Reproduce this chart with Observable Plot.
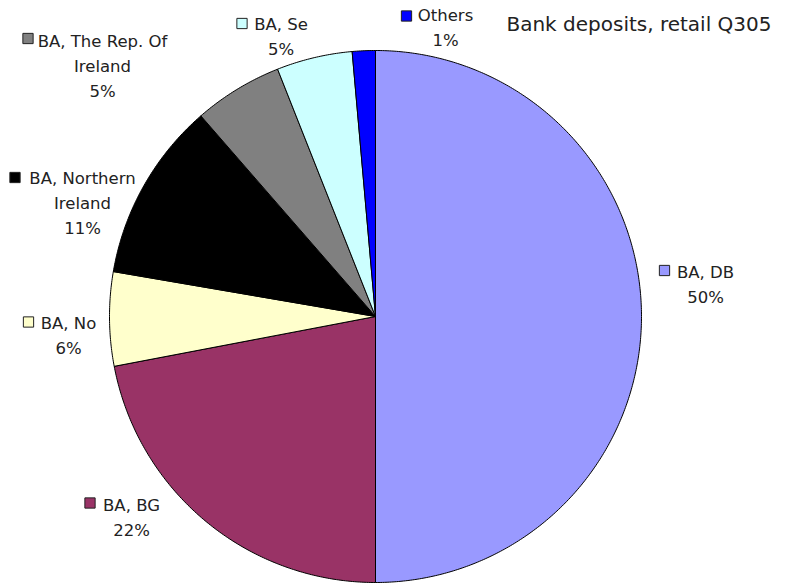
<!DOCTYPE html>
<html>
<head>
<meta charset="utf-8">
<script src="https://cdn.jsdelivr.net/npm/d3@7"></script>
<script src="https://cdn.jsdelivr.net/npm/@observablehq/plot@0.6"></script>
<style>
  html, body { margin: 0; padding: 0; background: #fff; }
  #chart { width: 785px; height: 583px; }
</style>
</head>
<body>
<div id="chart"></div>
<script>
// ---- data ----
const title = "Bank deposits, retail Q305";
const categories = ["BA, DB", "BA, BG", "BA, No", "BA, Northern Ireland", "BA, The Rep. Of Ireland", "BA, Se", "Others"];
const labelNames = ["BA, DB", "BA, BG", "BA, No", "BA, Northern\nIreland", "BA, The Rep. Of\nIreland", "BA, Se", "Others"];
const shares = [50, 22, 5.7, 10.9, 5.4, 4.6, 1.4];
const colors = ["#9999FF", "#993366", "#FFFFCC", "#000000", "#808080", "#CCFFFF", "#0000FF"];

// ---- layout (pixels) ----
const W = 785, H = 583;
const CX = 375, CY = 316, R = 266;
// label: text centre x, baseline of last line, legend-key centre
const labelLayout = [
  {cx: 705, base: 302, mx: 664, my: 270},
  {cx: 131, base: 535, mx: 89.5, my: 502.5},
  {cx: 68, base: 353, mx: 28, my: 321.5},
  {cx: 82, base: 233, mx: 14.5, my: 177},
  {cx: 102, base: 96, mx: 27.5, my: 38},
  {cx: 280.5, base: 54.5, mx: 241.5, my: 23},
  {cx: 445, base: 45, mx: 406, my: 15.5}
];
const titlePos = {x: 771, y: 30};

const ux = px => (px - CX) / R;
const uy = py => (CY - py) / R;

// ---- build slice outlines in unit-circle coordinates ----
const total = d3.sum(shares);
const slicePts = [];
let acc = 0;
categories.forEach((c, i) => {
  const a0 = acc / total * 2 * Math.PI;
  acc += shares[i];
  const a1 = acc / total * 2 * Math.PI;
  const n = Math.max(2, Math.ceil((a1 - a0) / (Math.PI / 360)));
  slicePts.push({cat: c, x: 0, y: 0});
  for (let k = 0; k <= n; k++) {
    const a = a0 + (a1 - a0) * k / n;
    slicePts.push({cat: c, x: Math.sin(a), y: Math.cos(a)});
  }
  slicePts.push({cat: c, x: 0, y: 0});
});

const labels = categories.map((c, i) => ({
  cat: c,
  text: labelNames[i] + "\n" + Math.round(shares[i] / total * 100) + "%",
  x: ux(labelLayout[i].cx),
  y: uy(labelLayout[i].base),
  mx: ux(labelLayout[i].mx),
  my: uy(labelLayout[i].my)
}));

const chart = Plot.plot({
  width: W,
  height: H,
  margin: 0,
  style: {fontFamily: "DejaVu Sans", background: "#fff"},
  x: {domain: [-1, 1], range: [CX - R, CX + R], axis: null},
  y: {domain: [-1, 1], range: [CY + R, CY - R], axis: null},
  color: {domain: categories, range: colors},
  marks: [
    Plot.line(slicePts, {x: "x", y: "y", z: "cat", fill: "cat", stroke: "#000", strokeWidth: 1, strokeLinejoin: "round", curve: "linear"}),
    Plot.dot(labels, {x: "mx", y: "my", fill: "cat", stroke: "#222", strokeWidth: 1, symbol: "square", r: 5.8}),
    Plot.text(labels, {x: "x", y: "y", text: "text", textAnchor: "middle", lineAnchor: "bottom", lineHeight: 1.5, fontSize: 16.5, fill: "#222"}),
    Plot.text([title], {x: ux(titlePos.x), y: uy(titlePos.y), text: d => d, textAnchor: "end", lineAnchor: "bottom", fontSize: 20, fill: "#222"})
  ]
});
document.getElementById("chart").appendChild(chart);
</script>
</body>
</html>
